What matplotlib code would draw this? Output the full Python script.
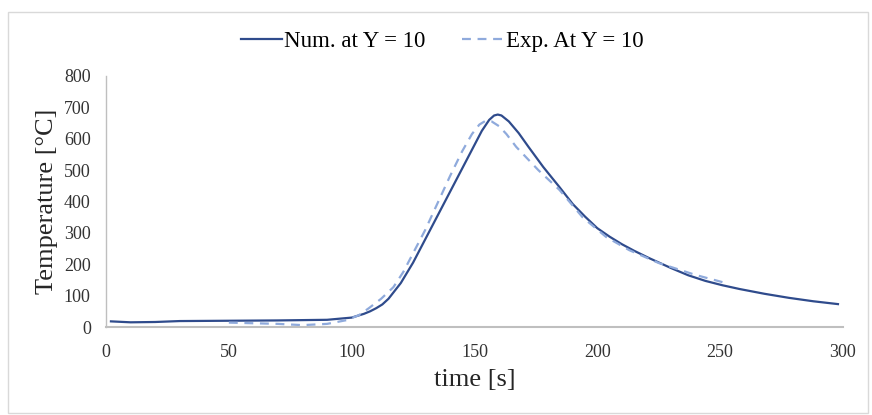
import matplotlib
matplotlib.use("Agg")
import matplotlib.pyplot as plt
from matplotlib.patches import Rectangle

# numerical result at Y = 10
num_time = [2, 10, 20, 30, 50, 70, 90, 100, 105, 107.5, 110, 112.5, 115, 120, 125,
            130, 135, 140, 145, 150, 153, 156, 158, 159.5, 161, 164, 168, 172,
            178, 184.6, 190, 195, 200, 205, 210, 215, 221, 230, 237, 244, 251,
            258, 268, 278, 288, 298]
num_temp = [18, 15, 16, 19, 20, 21, 23, 30, 42, 50, 60, 72, 90, 140, 205,
            280, 355, 430, 505, 580, 625, 660, 674, 677, 674, 655, 618, 574,
            510, 446, 392, 352, 315, 288, 264, 243, 220, 188, 165, 147, 133,
            121, 106, 93, 82, 73]

# experimental result at Y = 10
exp_time = [50, 60, 70, 80, 90, 98, 103, 107, 112, 117, 121, 125, 130, 135, 140,
            145, 149, 152, 154.5, 157, 160, 163, 167, 176, 184.6, 194, 203.6, 213,
            225, 240, 251]
exp_temp = [14, 12, 10, 6, 10, 22, 38, 60, 90, 127, 175, 235, 310, 395, 480,
            560, 615, 645, 657, 655, 640, 615, 574, 500, 437, 350, 287, 245,
            204, 166, 143]

xticks = [0, 50, 100, 150, 200, 250, 300]
yticks = [0, 100, 200, 300, 400, 500, 600, 700, 800]

plt.rcParams["font.family"] = ["Liberation Serif", "DejaVu Serif"]

fig = plt.figure(figsize=(8.72, 4.15), dpi=100)
ax = fig.add_axes([0.1216, 0.212, 0.845, 0.605])

ax.plot(num_time, num_temp, color="#2F4B8C", lw=1.6, label="Num. at Y = 10")
ax.plot(exp_time, exp_temp, color="#8FAADC", lw=1.6, ls=(0, (4, 3)),
        label="Exp. At Y = 10")

ax.set_xlim(0, 300)
ax.set_ylim(0, 800)
ax.set_xticks(xticks)
ax.set_yticks(yticks)
ax.tick_params(length=0, labelsize=13, colors="#333333")
ax.tick_params(axis="x", pad=12)
ax.tick_params(axis="y", pad=11)

for side in ["top", "right"]:
    ax.spines[side].set_visible(False)
ax.spines["left"].set_color("#BFBFBF")
ax.spines["left"].set_linewidth(1.0)
ax.spines["bottom"].set_color("#BFBFBF")
ax.spines["bottom"].set_linewidth(1.5)

ax.set_xlabel("time [s]", fontsize=19, color="#262626", labelpad=6)
ax.set_ylabel("Temperature [°C]", fontsize=19, color="#262626", labelpad=4)

fig.legend(loc="center", bbox_to_anchor=(0.507, 0.9), ncol=2, frameon=False,
           fontsize=16.5, handlelength=1.8, handletextpad=0.1, columnspacing=1.6)

# chart border
fig.patches.append(Rectangle((0.009, 0.005), 0.986, 0.966, transform=fig.transFigure,
                             fill=False, edgecolor="#D9D9D9", lw=1.0))

fig.savefig("out.png", dpi=100)
